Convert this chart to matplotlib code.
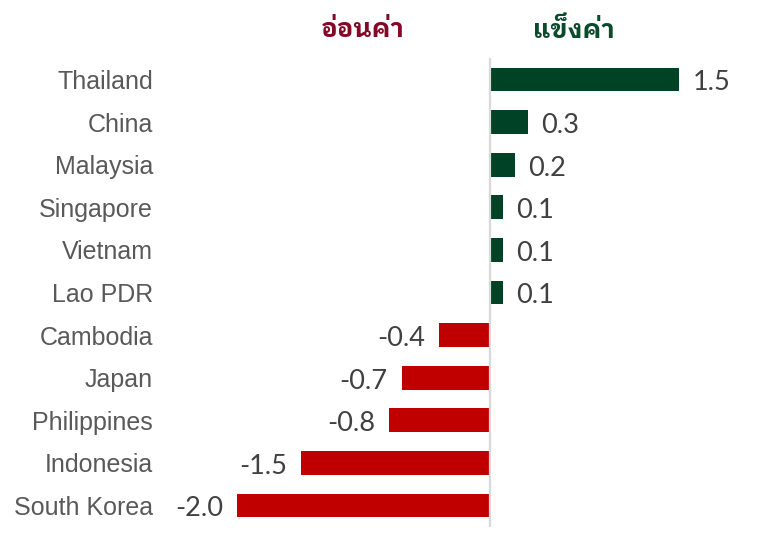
import matplotlib
matplotlib.use("Agg")
import matplotlib.pyplot as plt
from matplotlib import font_manager
from matplotlib.ft2font import FT2Font

countries = ["Thailand", "China", "Malaysia", "Singapore", "Vietnam", "Lao PDR",
             "Cambodia", "Japan", "Philippines", "Indonesia", "South Korea"]
values = [1.5, 0.3, 0.2, 0.1, 0.1, 0.1, -0.4, -0.7, -0.8, -1.5, -2.0]
header_weak = "อ่อนค่า"
header_strong = "แข็งค่า"

GREEN = "#004225"
RED = "#C00000"
HDR_RED = "#820A28"
HDR_GREEN = "#0B4A2A"


def find_thai_font():
    prefs = []
    for path in font_manager.findSystemFonts():
        try:
            f = FT2Font(path)
            cmap = f.get_charmap()
        except Exception:
            continue
        if 0x0E2D in cmap and 0x0E48 in cmap:
            name = font_manager.FontProperties(fname=path).get_name()
            score = 0
            low = name.lower()
            if "sans" in low:
                score += 2
            if "thai" in low:
                score += 3
            if "looped" in low:
                score += 1
            prefs.append((score, name, path))
    if not prefs:
        return None
    prefs.sort(key=lambda t: -t[0])
    return prefs[0]


thai = find_thai_font()

fig = plt.figure(figsize=(7.65, 5.5), dpi=100)
W, H = 765, 550
ax = fig.add_axes([160 / W, (550 - 527) / H, 605 / W, 469 / H])

px_per_unit = 126.3
ax.set_xlim((160 - 490) / px_per_unit, (765 - 490) / px_per_unit)
ax.set_ylim(len(countries) - 1 + 0.505, -0.505)

ypos = list(range(len(countries)))
colors = [GREEN if v > 0 else RED for v in values]
ax.barh(ypos, values, height=0.56, color=colors, zorder=2)
ax.axvline(0, color="#D9D9D9", lw=1.6, zorder=3)

for s in ax.spines.values():
    s.set_visible(False)
ax.set_xticks([])
ax.set_yticks(ypos)
ax.set_yticklabels(countries, fontfamily="Liberation Sans", fontsize=18, color="#595959")
ax.tick_params(axis="y", length=0, pad=5)

for y, v in zip(ypos, values):
    if v >= 0:
        ax.annotate(f"{v:.1f}", (v, y), xytext=(9.5, -2.5), textcoords="offset points",
                    ha="left", va="center", fontfamily="Lato", fontsize=19.5, color="#404040")
    else:
        ax.annotate(f"{v:.1f}", (v, y), xytext=(-10, -2.5), textcoords="offset points",
                    ha="right", va="center", fontfamily="Lato", fontsize=19.5, color="#404040")

fam = [thai[1], "DejaVu Sans"] if thai else ["DejaVu Sans"]
t1 = fig.text(363 / W, 1 - 30 / H, header_weak, ha="center", va="center",
              fontfamily=fam, fontsize=18, fontweight="bold", color=HDR_RED)
t2 = fig.text(574 / W, 1 - 30 / H, header_strong, ha="center", va="center",
              fontfamily=fam, fontsize=18, fontweight="bold", color=HDR_GREEN)

# scale headers to the reference width (~83 px)
fig.canvas.draw()
r = fig.canvas.get_renderer()
w = t1.get_window_extent(r).width
if w > 0:
    s = 84 / w
    t1.set_fontsize(18 * s)
    t2.set_fontsize(18 * s)

fig.savefig("out.png", dpi=100)
